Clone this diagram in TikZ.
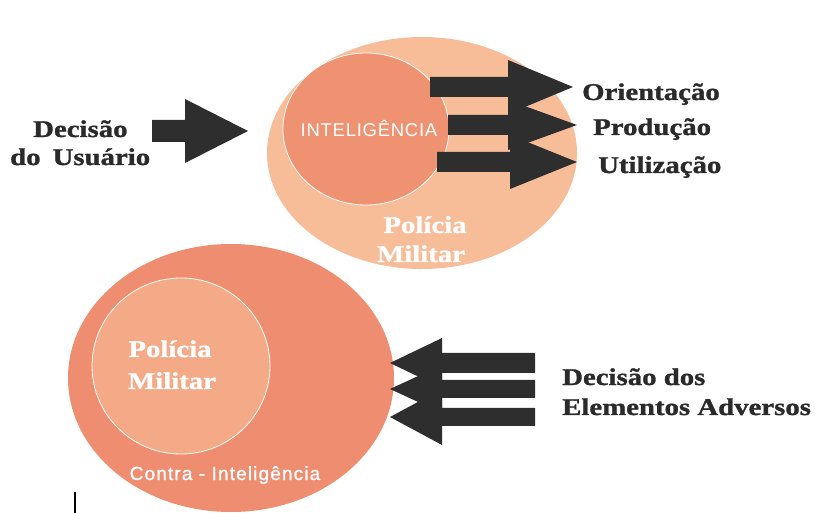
\documentclass[tikz,border=0pt]{standalone}
\usepackage{fontspec}
\setmainfont{Liberation Serif}
\newfontfamily\wideserif[FakeStretch=1.2,FakeBold=1.2]{Liberation Serif Bold}
\newfontfamily\sanslbl[LetterSpace=4]{Liberation Sans}
\newfontfamily\sanslblb[LetterSpace=6,FakeBold=1]{Liberation Sans}
\usetikzlibrary{shapes.geometric}
\definecolor{peach}{HTML}{F7BC98}
\definecolor{salmon}{HTML}{EF9272}
\definecolor{salmonB}{HTML}{EE8D70}
\definecolor{peachB}{HTML}{F5AA87}
\definecolor{arrowc}{HTML}{2E2E2E}
\definecolor{textc}{HTML}{2A2A2A}
\newcommand\blockarr[6]{\fill[arrowc] (#1,#4-#5) -- (#2,#4-#5) -- (#2,#4-#6) -- (#3,#4) -- (#2,#4+#6) -- (#2,#4+#5) -- (#1,#4+#5) -- cycle;}
\begin{document}
\begin{tikzpicture}[x=1pt,y=-1pt,
  blob/.style={ellipse,inner sep=0pt},
  darklbl/.style={anchor=base west,inner sep=0pt,text=textc,font=\wideserif\fontsize{24}{26}\selectfont},
  whitelbl/.style={anchor=base,inner sep=0pt,text=white,font=\wideserif\fontsize{24}{26}\selectfont}]
\clip (0,0) rectangle (815,513);
\fill[white] (0,0) rectangle (815,513);
% top group
\node[blob,fill=peach,minimum width=310pt,minimum height=232pt] (topbig) at (422,153) {};
\node[blob,fill=salmon,draw=white,line width=0.8pt,minimum width=166pt,minimum height=152pt] (topin) at (366,129) {};
\node[anchor=base,inner sep=0pt,text=white,font=\sanslbl\fontsize{18.5}{20}\selectfont] (intel) at (369,137) {INTELIGÊNCIA};
\node[whitelbl] (pm1) at (425,233) {Polícia};
\node[whitelbl] (pm2) at (421,262) {Militar};
% output arrows
\blockarr{430}{508}{573}{87}{10}{27}
\blockarr{448}{508}{577}{125}{10}{25}
\blockarr{437}{510}{577}{162}{10}{27}
\node[darklbl] (ori) at (582,100) {Orientação};
\node[darklbl] (prod) at (593,135) {Produção};
\node[darklbl] (util) at (598,173) {Utilização};
% user decision
\node[darklbl] (dec1) at (33,137) {Decisão};
\node[darklbl] (dec2) at (10,165) {do\hspace{12pt}Usuário};
\blockarr{152}{185}{248}{131}{11}{32}
% bottom group
\node[blob,fill=salmonB,minimum width=326pt,minimum height=268pt] (botbig) at (231,378) {};
\node[blob,fill=peachB,draw=white,line width=0.8pt,minimum width=178pt,minimum height=176pt] (botin) at (181,366) {};
\node[whitelbl] (pm3) at (170,357) {Polícia};
\node[whitelbl] (pm4) at (172,389) {Militar};
\node[anchor=base,inner sep=0pt,text=white,font=\sanslblb\fontsize{19}{21}\selectfont] (contra) at (225,480) {Contra - Inteligência};
% adversary arrows
\blockarr{535}{442}{390}{363}{10}{25}
\blockarr{535}{442}{390}{389}{9}{24}
\blockarr{535}{442}{390}{417}{9}{28}
\node[darklbl] (adv1) at (562,385) {Decisão dos};
\node[darklbl] (adv2) at (562,415) {Elementos Adversos};
% small mark
\coordinate (m1) at (75,492);
\coordinate (m2) at (75,513);
\draw[black,line width=2pt] (m1) -- (m2);
\end{tikzpicture}
\end{document}
